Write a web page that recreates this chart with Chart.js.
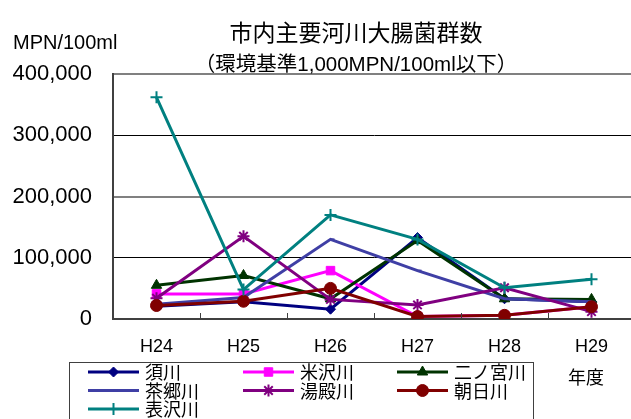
<!DOCTYPE html>
<html>
<head>
<meta charset="utf-8">
<script src="https://cdn.jsdelivr.net/npm/chart.js@4/dist/chart.umd.min.js"></script>
<style>
  html, body { margin: 0; padding: 0; background: #fff; overflow: hidden; }
  #wrap { width: 660px; height: 419px; }
</style>
</head>
<body>
<div id="wrap"><canvas id="myChart" width="660" height="419"></canvas></div>
<script>
// datos
const titulo = "市内主要河川大腸菌群数";
const subtitulo = "（環境基準1,000MPN/100ml以下）";
const unidad = "MPN/100ml";
const ejeX = "年度";
const anios = ["H24", "H25", "H26", "H27", "H28", "H29"];
const rios = ["須川", "米沢川", "二ノ宮川", "茶郷川", "湯殿川", "朝日川", "表沢川"];

const sukawa = [21000, 28000, 16000, 133000, 33000, 28000];
const yonezawa = [41000, 41000, 79000, 4000, 6000, 20000];
const ninomiya = [55000, 71000, 33000, 128000, 33000, 32000];
const chago = [24000, 35000, 130000, 79000, 33000, 28000];
const yudono = [34000, 135000, 32000, 23000, 51000, 12000];
const asahi = [22000, 29000, 50000, 4000, 6000, 20000];
const omotezawa = [362000, 48000, 170000, 130000, 51000, 65000];

const valores = [sukawa, yonezawa, ninomiya, chago, yudono, asahi, omotezawa];
const colores = ["#000080", "#FF00FF", "#003300", "#3F3FA5", "#800080", "#800000", "#008080"];
const marcas = ["rectRot", "rect", "triangle", "dash", "star", "circle", "cross"];
const radios = [5, 6, 6, 4, 6, 6, 6];

const FUENTE = "'Liberation Sans', 'Noto Sans CJK JP', sans-serif";

function armarDatasets() {
  return rios.map((nombre, i) => ({
    label: nombre,
    data: valores[i],
    borderColor: colores[i],
    backgroundColor: colores[i],
    borderWidth: 3,
    pointStyle: marcas[i],
    pointRadius: radios[i],
    pointBorderWidth: marcas[i] === "star" || marcas[i] === "cross" || marcas[i] === "dash" ? 2 : 1,
    pointBorderColor: colores[i],
    pointBackgroundColor: colores[i],
    tension: 0,
    order: rios.length - 1 - i,
  }));
}

const textos = {
  id: "textos",
  afterDraw(chart) {
    const ctx = chart.ctx;
    const area = chart.chartArea;
    const x = chart.scales.x;
    ctx.save();
    // marcas interiores del eje X
    ctx.strokeStyle = "#404040";
    ctx.lineWidth = 1;
    for (let i = 1; i < anios.length; i++) {
      const px = Math.round((x.getPixelForValue(i - 1) + x.getPixelForValue(i)) / 2) + 0.5;
      ctx.beginPath();
      ctx.moveTo(px, area.bottom);
      ctx.lineTo(px, area.bottom - 6);
      ctx.stroke();
    }
    ctx.fillStyle = "#000";
    ctx.textBaseline = "middle";
    ctx.textAlign = "center";
    ctx.font = "23px " + FUENTE;
    ctx.fillText(titulo, 356, 35);
    ctx.font = "20.5px " + FUENTE;
    ctx.fillText(subtitulo, 356, 65);
    ctx.textAlign = "left";
    ctx.font = "20px " + FUENTE;
    ctx.fillText(unidad, 13, 43);
    ctx.textAlign = "center";
    ctx.font = "18px " + FUENTE;
    ctx.fillText(ejeX, 586, 379);

    // leyenda
    ctx.strokeStyle = "#404040";
    ctx.lineWidth = 1;
    ctx.strokeRect(69.5, 362.5, 464, 70);
    const cols = [88, 243, 397];
    ctx.font = "18px " + FUENTE;
    ctx.textAlign = "left";
    ctx.textBaseline = "alphabetic";
    chart.data.datasets.forEach((ds, i) => {
      const cx = cols[i % 3];
      const cy = 372 + Math.floor(i / 3) * 18.5;
      ctx.strokeStyle = ds.borderColor;
      ctx.lineWidth = 3;
      ctx.beginPath();
      ctx.moveTo(cx, cy);
      ctx.lineTo(cx + 51, cy);
      ctx.stroke();
      if (Chart.helpers && Chart.helpers.drawPoint) {
        ctx.fillStyle = ds.backgroundColor;
        ctx.strokeStyle = ds.borderColor;
        ctx.lineWidth = ds.pointBorderWidth;
        Chart.helpers.drawPoint(ctx, {
          pointStyle: ds.pointStyle,
          radius: ds.pointRadius,
          borderWidth: ds.pointBorderWidth,
          rotation: 0,
        }, cx + 25.5, cy);
      }
      ctx.fillStyle = "#000";
      ctx.fillText(ds.label, cx + 57, cy + 7);
    });
    ctx.restore();
  },
};

function dibujarGrafica() {
  const ctx = document.getElementById("myChart").getContext("2d");
  new Chart(ctx, {
    type: "line",
    data: { labels: anios, datasets: armarDatasets() },
    options: {
      responsive: false,
      animation: false,
      devicePixelRatio: 1,
      layout: { padding: { top: 74, right: 25, bottom: 0, left: 0 } },
      plugins: { legend: { display: false }, tooltip: { enabled: false }, title: { display: false } },
      scales: {
        x: {
          offset: true,
          grid: { display: false, drawTicks: false },
          border: { display: true, color: "#404040", width: 2 },
          ticks: { color: "#000", font: { family: FUENTE, size: 18 }, padding: 17, maxRotation: 0 },
          afterFit: (s) => { s.height = 100; },
        },
        y: {
          min: 0,
          max: 400000,
          ticks: {
            stepSize: 100000,
            color: "#000",
            font: { family: FUENTE, size: 22 },
            padding: 21,
            callback: (v) => v.toLocaleString("en-US"),
          },
          grid: {
            drawTicks: false,
            color: (c) => (c.tick && (c.tick.value === 400000 || c.tick.value === 200000) ? "#808080" : "#000"),
            lineWidth: (c) => (c.tick && (c.tick.value === 400000 || c.tick.value === 200000) ? 2 : 1),
          },
          border: { display: true, color: "#404040", width: 2 },
          afterFit: (s) => { s.width = 113; },
        },
      },
    },
    plugins: [textos],
  });
}

dibujarGrafica();
</script>
</body>
</html>
